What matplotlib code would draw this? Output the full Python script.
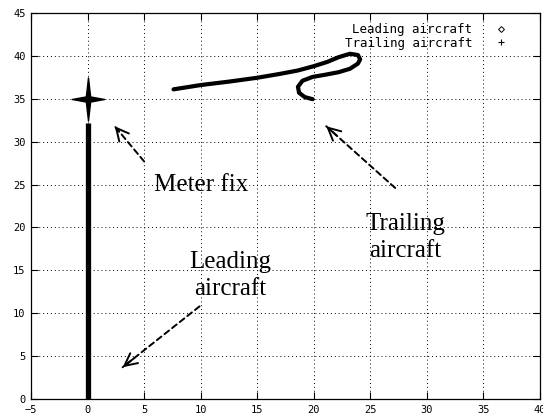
import matplotlib
matplotlib.use('Agg')
import matplotlib.pyplot as plt
from matplotlib.path import Path
from matplotlib.lines import Line2D

# Leading aircraft: straight in along x = 0
lead_x = [0, 0]
lead_y = [0, 32.2]

# Meter fix position
fix_x = [0]
fix_y = [35]

# Trailing aircraft track
trail_x = [7.6, 10.0, 12.5, 15.0, 17.0, 18.6, 20.0, 21.2, 22.2, 23.2, 23.9, 24.1, 23.9,
           23.2, 22.2, 21.0, 19.9, 19.0, 18.6, 18.7, 19.2, 19.9]
trail_y = [36.1, 36.6, 37.0, 37.45, 37.9, 38.3, 38.8, 39.3, 39.85, 40.25, 40.1, 39.6, 39.1,
           38.5, 38.1, 37.8, 37.55, 37.1, 36.4, 35.7, 35.2, 34.95]

# annotations: text, text pos (baseline of last line), arrow tail, arrow head
notes = [
    ("Meter fix", (10.05, 24.2), (5.0, 27.7), (2.4, 31.8)),
    ("Trailing\naircraft", (28.07, 16.6), (27.2, 24.6), (21.1, 31.8)),
    ("Leading\naircraft", (12.65, 12.1), (9.9, 10.8), (3.1, 3.7)),
]

# four pointed star for the meter fix
star = Path([(0, 1), (0.1, 0.12), (0.75, 0), (0.1, -0.12), (0, -1),
             (-0.1, -0.12), (-0.75, 0), (-0.1, 0.12), (0, 1)],
            [Path.MOVETO] + [Path.LINETO] * 7 + [Path.CLOSEPOLY])

fig = plt.figure(figsize=(5.43, 4.16), dpi=100)
ax = fig.add_axes([31 / 543, 1 - 399 / 416, (540 - 31) / 543, (399 - 13) / 416])

ax.plot(lead_x, lead_y, color='black', lw=3.8, solid_capstyle='butt')
ax.plot(fix_x, fix_y, marker=star, markersize=31, color='black', ls='none')
ax.plot(trail_x, trail_y, color='black', lw=3.0, solid_capstyle='round', solid_joinstyle='round')

for txt, tpos, tail, head in notes:
    ax.text(tpos[0], tpos[1], txt, ha='center', va='baseline', multialignment='center',
            fontsize=18, family='Liberation Serif', linespacing=1.3)
    ax.annotate('', xy=head, xytext=tail,
                arrowprops=dict(arrowstyle='-', ls=(0, (3, 2)), lw=1.4, color='black',
                                shrinkA=0, shrinkB=0))
    # solid open head
    dx = head[0] - tail[0]
    dy = head[1] - tail[1]
    ax.annotate('', xy=head, xytext=(head[0] - 0.15 * dx, head[1] - 0.15 * dy),
                arrowprops=dict(arrowstyle='->,head_length=0.9,head_width=0.45', lw=1.4,
                                color='black', shrinkA=0, shrinkB=0))

ax.set_xlim(-5, 40)
ax.set_ylim(0, 45)
ax.set_xticks(range(-5, 41, 5))
ax.set_yticks(range(0, 46, 5))
ax.tick_params(direction='in', top=True, right=True, length=5, width=0.8, labelsize=7.5, pad=4)
for lab in ax.get_xticklabels() + ax.get_yticklabels():
    lab.set_family('DejaVu Sans Mono')
ax.grid(True, color='black', ls=(0, (1, 3)), lw=0.7)
for s in ax.spines.values():
    s.set_linewidth(0.9)

handles = [Line2D([], [], marker='D', ms=3, mfc='white', mec='black', mew=0.7, ls='none'),
           Line2D([], [], marker='+', ms=5, color='black', mew=0.8, ls='none')]
ax.legend(handles, ['Leading aircraft', 'Trailing aircraft'], loc='upper right',
          bbox_to_anchor=(0.955, 1.0), frameon=False, markerfirst=False, handlelength=1.0,
          handletextpad=1.8, labelspacing=0.05, borderpad=0.3,
          prop={'family': 'DejaVu Sans Mono', 'size': 9})

fig.savefig('out.png', dpi=100)
